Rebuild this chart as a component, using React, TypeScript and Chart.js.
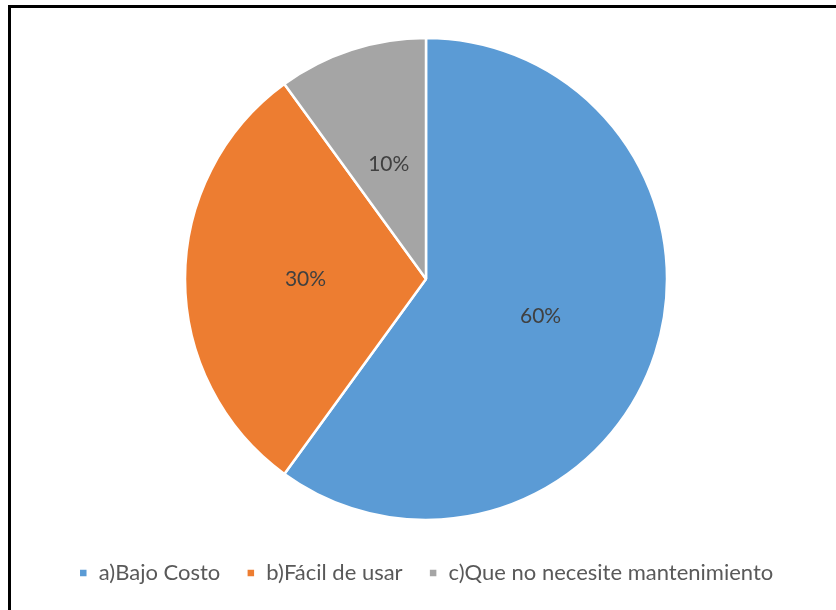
import React, { useEffect, useRef } from "react";
import { Chart, registerables } from "chart.js";

Chart.register(...registerables);

const categories = ["a)Bajo Costo", "b)Fácil de usar", "c)Que no necesite mantenimiento"];
const values = [60, 30, 10];
const colors = ["#5B9BD5", "#ED7D31", "#A5A5A5"];
const labelTexts = ["60%", "30%", "10%"];

const pieLabels = {
  id: "pieLabels",
  afterDatasetsDraw(chart: any) {
    const ctx = chart.ctx;
    const meta = chart.getDatasetMeta(0);
    ctx.save();
    ctx.font = "21px Lato";
    ctx.fillStyle = "#404040";
    ctx.textAlign = "center";
    ctx.textBaseline = "middle";
    meta.data.forEach((arc: any, i: number) => {
      const p = arc.getProps(["x", "y", "startAngle", "endAngle", "outerRadius"], true);
      const mid = (p.startAngle + p.endAngle) / 2;
      const r = p.outerRadius * 0.5;
      ctx.fillText(labelTexts[i], p.x + Math.cos(mid) * r, p.y + Math.sin(mid) * r);
    });
    ctx.restore();
  },
};

export default function App() {
  const ref = useRef<HTMLCanvasElement>(null);
  useEffect(() => {
    if (!ref.current) return;
    const chart = new Chart(ref.current, {
      type: "pie",
      data: {
        labels: categories,
        datasets: [
          {
            data: values,
            backgroundColor: colors,
            borderColor: "#ffffff",
            borderWidth: 2.5,
            radius: 241,
          } as any,
        ],
      },
      options: {
        responsive: false,
        animation: false,
        layout: { padding: { top: 22, left: 16, right: 0, bottom: 16 } },
        plugins: {
          tooltip: { enabled: false },
          legend: {
            position: "bottom",
            labels: {
              boxWidth: 9,
              boxHeight: 9,
              padding: 26,
              color: "#595959",
              font: { family: "Lato", size: 22 },
            },
          },
        },
      },
      plugins: [pieLabels],
    });
    return () => chart.destroy();
  }, []);
  return (
    <>
      <div
        style={{
          position: "fixed",
          left: 8,
          top: 5,
          width: 900,
          height: 700,
          border: "3px solid #000",
          boxSizing: "border-box",
          background: "#fff",
        }}
      />
      <canvas
        ref={ref}
        width={836}
        height={610}
        style={{ position: "fixed", left: 0, top: 0, width: 836, height: 610, display: "block" }}
      />
    </>
  );
}
